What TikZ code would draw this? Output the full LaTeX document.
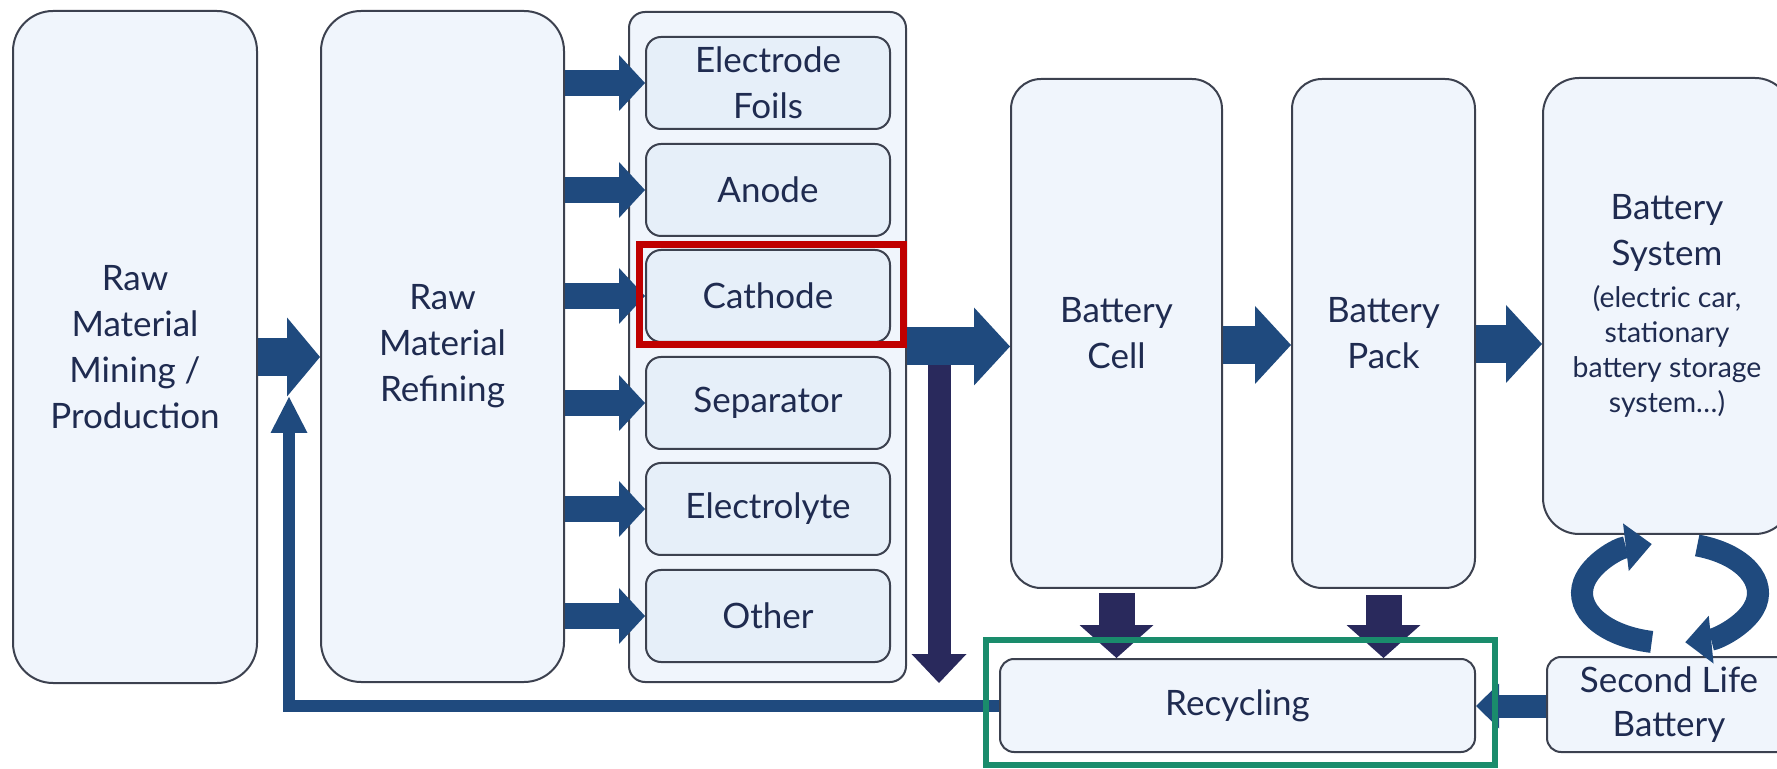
\documentclass[tikz,border=0pt]{standalone}
\usepackage{fontspec}
\setmainfont{Lato}
\usetikzlibrary{arrows.meta}
\definecolor{boxfill}{HTML}{F0F5FC}
\definecolor{partfill}{HTML}{E6EFF9}
\definecolor{boxline}{HTML}{3C414F}
\definecolor{ink}{HTML}{1F2B50}
\definecolor{flow}{HTML}{1F4A7E}
\definecolor{sink}{HTML}{29295C}
\definecolor{hired}{HTML}{C00000}
\definecolor{higreen}{HTML}{1A8C6C}
\newcommand{\sysnote}{\fontsize{14.2}{17.5}\selectfont}
\tikzset{
  stage/.style={draw=boxline, line width=1pt, fill=boxfill, rounded corners=15pt,
    text=ink, align=center, font=\fontsize{17.5}{23}\selectfont},
  part/.style={stage, fill=partfill, rounded corners=7.5pt,
    minimum width=122pt, minimum height=46pt},
  feed/.style={draw=flow, line width=13pt,
    -{Triangle[length=13pt, width=28pt, line width=0pt]}},
  bigfeed/.style={draw=flow, line width=19pt,
    -{Triangle[length=18pt, width=39pt, line width=0pt]}},
  sinkarrow/.style={draw=sink, line width=18pt,
    -{Triangle[length=16.5pt, width=37pt, line width=0pt]}},
  turn/.style={draw=flow, line width=11pt,
    -{Triangle[length=13pt, width=24pt, line width=0pt]}},
}
\begin{document}
\begin{tikzpicture}[x=0.5pt, y=-0.5pt]
  \useasboundingbox (0,0) rectangle (1777,769);
  \draw
    (135,347) node[stage, minimum width=122pt, minimum height=336pt, rounded corners=20pt] (mining) {Raw\\Material\\Mining /\\Production}
    (442.5,346.5) node[stage, minimum width=121.5pt, minimum height=335.5pt, rounded corners=20pt] (refining) {Raw\\Material\\Refining}
    (767.5,347) node[stage, minimum width=138.5pt, minimum height=335pt, rounded corners=8pt] (parts) {}
    (768,83) node[part] (foils) {Electrode\\Foils}
    (768,190) node[part] (anode) {Anode}
    (768,296) node[part] (cathode) {Cathode}
    (768,403) node[part] (separator) {Separator}
    (768,509) node[part] (electrolyte) {Electrolyte}
    (768,616) node[part] (other) {Other}
    (1116.5,333.5) node[stage, minimum width=105.5pt, minimum height=254.5pt] (cell) {Battery\\Cell}
    (1383.5,333.5) node[stage, minimum width=91.5pt, minimum height=254.5pt] (pack) {Battery\\Pack}
    (1667,306) node[stage, minimum width=124pt, minimum height=228pt, rounded corners=18pt] (system) {Battery\\System\\[-2pt]\sysnote (electric car,\\[-5.5pt]\sysnote stationary\\[-5.5pt]\sysnote battery storage\\[-5.5pt]\sysnote system\dots)}
    (1237.5,705.5) node[stage, minimum width=237.5pt, minimum height=46.5pt, rounded corners=7pt] (recycle) {Recycling}
    (1669,704.5) node[stage, minimum width=122pt, minimum height=47.5pt, rounded corners=7pt] (second) {Second Life\\[-1pt]Battery};
  \coordinate (back) at (289,397);
  \coordinate (split) at (939,360);
  \coordinate (splitend) at (939,683);
  \coordinate (swap) at (1670,593);
  \begin{scope}[feed]
    \draw (refining.east |- foils) -- (foils);
    \draw (refining.east |- anode) -- (anode);
    \draw (refining.east |- cathode) -- (cathode);
    \draw (refining.east |- separator) -- (separator);
    \draw (refining.east |- electrolyte) -- (electrolyte);
    \draw (refining.east |- other) -- (other);
  \end{scope}
  \draw[draw=sink, line width=11.5pt, -{Triangle[length=14.5pt, width=27.5pt, line width=0pt]}] (split) -- (splitend);
  \begin{scope}[bigfeed]
    \draw[-{Triangle[length=16.5pt, width=39.5pt, line width=0pt]}] (mining.east |- 0,357) -- (refining.west |- 0,357);
    \draw (parts.east |- 0,346.5) -- (cell.west |- 0,346.5);
    \draw (cell.east |- 0,345) -- (pack.west |- 0,345);
    \draw (pack.east |- 0,344) -- (system.west |- 0,344);
  \end{scope}
  \draw[draw=flow, line width=6pt, -{Triangle[length=18pt, width=18.5pt, line width=0pt]}] (recycle.west) -| (back);
  \draw[sinkarrow, shorten <=2pt] (cell.south) -- (cell.south |- recycle.north);
  \draw[sinkarrow, shorten <=3pt] (pack.south) -- (pack.south |- recycle.north);
  \draw[draw=flow, line width=11.5pt, -{Triangle[length=11.5pt, width=22.5pt, line width=0pt]}] (second.west |- 0,706) -- (recycle.east |- 0,706);
  \draw[turn] (swap) ++(102:88 and 50) arc[start angle=102, end angle=258, x radius=88, y radius=50];
  \draw[turn] (swap) ++(-72:88 and 50) arc[start angle=-72, end angle=80, x radius=88, y radius=50];
  \node[draw=hired, line width=3.5pt, minimum width=132pt, minimum height=50pt] (pick) at (771.5,294.5) {};
  \node[draw=higreen, line width=3pt, minimum width=254.5pt, minimum height=62.5pt] (ring) at (1240.5,702.5) {};
\end{tikzpicture}
\end{document}
